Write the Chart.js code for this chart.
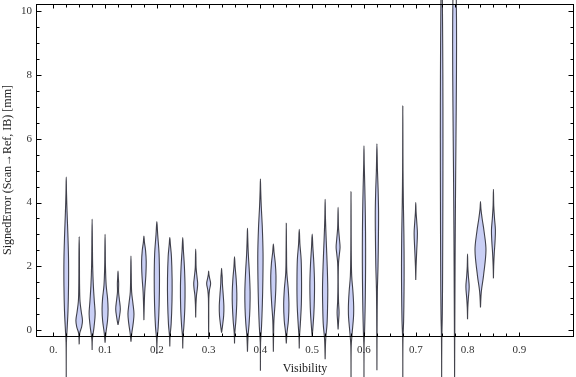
<!DOCTYPE html>
<html>
<head>
<meta charset="utf-8">
<script src="https://cdn.jsdelivr.net/npm/chart.js@4"></script>
<style>
  html, body { margin: 0; padding: 0; background: #fff; }
</style>
</head>
<body>
<canvas id="violins" width="576" height="377"></canvas>
<script>
// VALUES
const positions = [0.025, 0.05, 0.075, 0.1, 0.125, 0.15, 0.175, 0.2, 0.225, 0.25, 0.275,
  0.3, 0.325, 0.35, 0.375, 0.4, 0.425, 0.45, 0.475, 0.5, 0.525, 0.55, 0.575, 0.6, 0.625,
  0.675, 0.7, 0.75, 0.775, 0.8, 0.825, 0.85];

const minVals = [-1.6, -0.45, -0.63, -0.4, 0.16, -0.37, 0.31, -0.75, -0.52, -0.58, 0.39,
  -0.28, -0.08, -0.42, -0.68, -1.28, -0.68, -0.42, -0.58, -0.2, -0.92, 0.02, -1.6, -1.6, -1.26,
  -1.6, 1.57, -1.6, -1.6, 0.34, 0.71, 1.62];

const maxVals = [4.8, 2.93, 3.48, 3.0, 1.85, 2.32, 2.95, 3.4, 2.9, 2.9, 2.54,
  1.85, 1.94, 2.3, 3.19, 4.74, 2.7, 3.35, 3.16, 3.01, 4.1, 3.85, 4.34, 5.78, 5.84,
  7.03, 4.0, 12, 12, 2.38, 4.03, 4.41];

// density profile of each violin: [error, relative density]
const profiles = [
  [[-0.4, 0.03], [0.0, 0.15], [0.6, 0.32], [1.4, 0.42], [2.2, 0.42], [3.0, 0.3], [3.7, 0.15], [4.3, 0.05]],
  [[-0.1, 0.1], [0.1, 0.45], [0.3, 0.6], [0.55, 0.4], [0.9, 0.15], [1.4, 0.07], [2.0, 0.05], [2.5, 0.04]],
  [[-0.3, 0.05], [0.1, 0.35], [0.5, 0.55], [0.9, 0.4], [1.4, 0.22], [2.0, 0.1], [2.7, 0.05]],
  [[-0.1, 0.15], [0.3, 0.45], [0.65, 0.55], [1.0, 0.45], [1.4, 0.2], [2.0, 0.07], [2.5, 0.04]],
  [[0.35, 0.2], [0.65, 0.42], [0.95, 0.25], [1.2, 0.1], [1.45, 0.12], [1.65, 0.06]],
  [[-0.1, 0.15], [0.2, 0.4], [0.5, 0.55], [0.85, 0.35], [1.2, 0.12], [1.8, 0.05]],
  [[0.7, 0.05], [1.2, 0.15], [1.7, 0.35], [2.15, 0.42], [2.5, 0.3], [2.75, 0.1]],
  [[-0.3, 0.05], [0.1, 0.25], [0.8, 0.42], [1.6, 0.48], [2.4, 0.4], [3.0, 0.15]],
  [[-0.2, 0.05], [0.2, 0.25], [0.9, 0.4], [1.6, 0.42], [2.3, 0.3], [2.7, 0.1]],
  [[-0.2, 0.05], [0.1, 0.2], [0.7, 0.38], [1.36, 0.42], [2.0, 0.3], [2.5, 0.12]],
  [[0.8, 0.05], [1.1, 0.15], [1.3, 0.3], [1.46, 0.36], [1.65, 0.25], [1.95, 0.08], [2.3, 0.04]],
  [[0.3, 0.02], [1.0, 0.04], [1.25, 0.15], [1.46, 0.36], [1.65, 0.15], [1.75, 0.05]],
  [[0.1, 0.15], [0.45, 0.38], [0.75, 0.42], [1.1, 0.3], [1.45, 0.15], [1.65, 0.12], [1.8, 0.05]],
  [[-0.1, 0.05], [0.3, 0.25], [0.8, 0.4], [1.15, 0.42], [1.6, 0.3], [2.0, 0.1]],
  [[-0.2, 0.1], [0.2, 0.3], [0.7, 0.45], [1.2, 0.48], [1.8, 0.35], [2.4, 0.15], [2.9, 0.05]],
  [[-0.4, 0.03], [0.1, 0.2], [0.8, 0.35], [1.6, 0.45], [2.4, 0.48], [3.2, 0.35], [3.9, 0.15], [4.4, 0.05]],
  [[-0.2, 0.04], [0.3, 0.1], [0.8, 0.3], [1.3, 0.45], [1.7, 0.48], [2.1, 0.35], [2.45, 0.12]],
  [[-0.1, 0.12], [0.3, 0.38], [0.8, 0.48], [1.3, 0.35], [1.8, 0.1], [2.5, 0.04]],
  [[-0.2, 0.05], [0.2, 0.2], [0.8, 0.38], [1.5, 0.42], [2.2, 0.35], [2.7, 0.12]],
  [[0.0, 0.1], [0.5, 0.3], [1.0, 0.4], [1.5, 0.42], [2.1, 0.3], [2.6, 0.12]],
  [[-0.3, 0.1], [0.2, 0.35], [0.8, 0.45], [1.3, 0.48], [2.0, 0.38], [2.8, 0.2], [3.5, 0.06]],
  [[0.3, 0.1], [0.55, 0.18], [0.9, 0.08], [1.5, 0.03], [2.1, 0.08], [2.4, 0.25], [2.6, 0.36], [2.85, 0.25], [3.2, 0.08], [3.5, 0.04]],
  [[-0.5, 0.04], [-0.1, 0.2], [0.4, 0.45], [0.75, 0.48], [1.2, 0.35], [1.7, 0.12], [2.5, 0.04], [3.5, 0.02]],
  [[-0.5, 0.02], [-0.1, 0.1], [0.6, 0.2], [1.6, 0.28], [2.6, 0.3], [3.6, 0.25], [4.5, 0.15], [5.2, 0.05]],
  [[0.0, 0.03], [1.2, 0.08], [2.0, 0.2], [3.0, 0.28], [3.7, 0.3], [4.4, 0.22], [5.0, 0.1]],
  [[-0.3, 0.03], [0.3, 0.15], [1.2, 0.22], [2.0, 0.24], [3.0, 0.2], [4.0, 0.1], [5.0, 0.04], [6.0, 0.02]],
  [[2.0, 0.06], [2.5, 0.18], [3.03, 0.3], [3.4, 0.18], [3.7, 0.06]],
  [[-0.3, 0.03], [0.5, 0.12], [2.0, 0.18], [4.0, 0.22], [6.0, 0.24], [8.0, 0.22], [10.0, 0.15], [11.0, 0.08]],
  [[-0.2, 0.03], [1.0, 0.06], [3.0, 0.12], [5.0, 0.2], [7.0, 0.3], [9.0, 0.36], [10.5, 0.3], [11.3, 0.15]],
  [[0.7, 0.05], [1.0, 0.15], [1.36, 0.3], [1.7, 0.15], [2.0, 0.05]],
  [[1.2, 0.15], [1.7, 0.55], [2.5, 1.0], [3.1, 0.65], [3.5, 0.3], [3.8, 0.08]],
  [[2.0, 0.05], [2.4, 0.15], [2.8, 0.3], [3.14, 0.36], [3.5, 0.2], [3.9, 0.06]]
];

const xTickValues = [0, 0.1, 0.2, 0.3, 0.4, 0.5, 0.6, 0.7, 0.8, 0.9];
const xTickLabels = ["0.", "0.1", "0.2", "0.3", "0.4", "0.5", "0.6", "0.7", "0.8", "0.9"];
const yTickValues = [0, 2, 4, 6, 8, 10];

// ESTILO
const SERIF = "'Liberation Serif', 'DejaVu Serif', serif";
const HALF_WIDTH = 0.0106; // x units for density 1
const FILL = "#c9cff5";
const EDGE = "rgba(35,35,45,0.85)";

function violinPoints(i) {
  const x = positions[i];
  const knots = [[minVals[i], 0], ...profiles[i], [maxVals[i], 0]];
  const right = knots.map(k => ({ x: x + k[1] * HALF_WIDTH, y: k[0] }));
  const left = knots.slice(0, -1).reverse().map(k => ({ x: x - k[1] * HALF_WIDTH, y: k[0] }));
  return right.concat(left);
}

const datasets = positions.map((p, i) => ({
  data: violinPoints(i),
  showLine: true,
  fill: "shape",
  backgroundColor: FILL,
  borderColor: EDGE,
  borderWidth: 1.1,
  tension: 0.35,
  pointRadius: 0,
  clip: false
}));

// frame with inward ticks on all four sides
function drawTick(ctx, x1, y1, x2, y2) {
  ctx.beginPath();
  ctx.moveTo(x1, y1);
  ctx.lineTo(x2, y2);
  ctx.stroke();
}

const framePlugin = {
  id: "frame",
  afterDraw(chart) {
    const ctx = chart.ctx;
    const a = chart.chartArea;
    const xs = chart.scales.x, ys = chart.scales.y;
    const L = a.left + 0.5, R = a.right - 0.5, T = a.top + 0.5, B = a.bottom + 0.5;
    ctx.save();
    ctx.strokeStyle = "#000";
    ctx.lineWidth = 1;
    ctx.strokeRect(L, T, R - L, B - T);
    for (let k = 0; k <= 36; k++) {
      const px = Math.round(xs.getPixelForValue(k * 0.025)) + 0.5;
      const len = k % 4 === 0 ? 4 : 3;
      drawTick(ctx, px, B, px, B - len);
      drawTick(ctx, px, T, px, T + len);
    }
    for (let k = 0; k <= 20; k++) {
      const py = Math.round(ys.getPixelForValue(k * 0.5)) + 0.5;
      const len = k % 4 === 0 ? 5 : 3;
      drawTick(ctx, L, py, L + len, py);
      drawTick(ctx, R, py, R - len, py);
    }
    ctx.restore();
  }
};

new Chart(document.getElementById("violins"), {
  type: "scatter",
  data: { datasets },
  options: {
    responsive: false,
    animation: false,
    events: [],
    layout: { padding: { top: 4, right: 2, left: 0, bottom: 0 } },
    elements: { line: { capBezierPoints: false } },
    plugins: { legend: { display: false }, tooltip: { enabled: false } },
    scales: {
      x: {
        type: "linear",
        min: -0.0334,
        max: 1.0056,
        grid: { display: false, drawTicks: false },
        border: { display: false },
        afterBuildTicks: scale => { scale.ticks = xTickValues.map(v => ({ value: v })); },
        afterFit: scale => {
          scale.height = 41;
          scale.paddingLeft = 0;
          scale.paddingRight = 0;
        },
        ticks: {
          autoSkip: false,
          maxRotation: 0,
          padding: 8,
          color: "#333",
          font: { family: SERIF, size: 11 },
          callback: (v, idx) => xTickLabels[idx]
        },
        title: {
          display: true,
          text: "Visibility",
          color: "#222",
          font: { family: SERIF, size: 12 },
          padding: { top: 0, bottom: 1 }
        }
      },
      y: {
        type: "linear",
        min: -0.188,
        max: 10.23,
        grid: { display: false, drawTicks: false },
        border: { display: false },
        afterBuildTicks: scale => { scale.ticks = yTickValues.map(v => ({ value: v })); },
        afterFit: scale => {
          scale.width = 36;
          scale.paddingTop = 0;
          scale.paddingBottom = 0;
        },
        ticks: {
          padding: 4,
          color: "#333",
          font: { family: SERIF, size: 11 }
        },
        title: {
          display: true,
          text: "SignedError (Scan\u2192Ref, IB) [mm]",
          color: "#222",
          font: { family: SERIF, size: 12 },
          padding: { top: 1, bottom: 0 }
        }
      }
    }
  },
  plugins: [framePlugin]
});
</script>
</body>
</html>
